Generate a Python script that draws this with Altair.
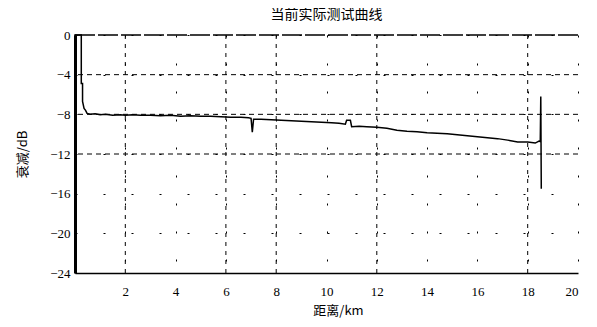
import altair as alt
import pandas as pd

title_text = "当前实际测试曲线"
x_title = "距离/km"
y_title = "衰减/dB"

x_ticks = [2, 4, 6, 8, 10, 12, 14, 16, 18, 20]
y_ticks = [0, -4, -8, -12, -16, -20, -24]

# grid lines that are clearly drawn (dashed) in the reference
h_dashed = [-4, -8, -12]
v_dashed = [2, 6, 8, 12, 18]
top_line = [0]

distance_km = [0.0, 0.0, 0.25, 0.25, 0.30, 0.30, 0.36, 0.42, 0.48, 0.60, 0.80, 1.0,
               1.2, 1.5, 1.8, 2.0, 2.3, 2.6, 3.0, 3.4, 3.8, 4.2, 4.6, 5.0, 5.4,
               5.8, 6.2, 6.6, 6.9, 7.0, 7.05, 7.1, 7.4, 7.8, 8.2, 8.6, 9.0, 9.4,
               9.8, 10.2, 10.5, 10.75, 10.8, 10.95, 11.0, 11.3, 11.6, 12.0, 12.4,
               12.8, 13.2, 13.6, 14.0, 14.4, 14.8, 15.2, 15.6, 16.0, 16.4, 16.8,
               17.2, 17.6, 18.0, 18.3, 18.45, 18.5, 18.52, 18.54]
atten_db = [-24.0, 0.0, 0.0, -4.9, -4.9, -6.7, -7.4, -7.6, -7.9, -8.0, -7.95, -8.05,
            -8.0, -8.1, -8.05, -8.1, -8.05, -8.1, -8.1, -8.15, -8.1, -8.2, -8.15, -8.2,
            -8.2, -8.25, -8.3, -8.3, -8.35, -8.4, -9.8, -8.5, -8.5, -8.55, -8.6, -8.65,
            -8.7, -8.75, -8.8, -8.85, -8.9, -9.0, -8.6, -8.6, -9.25, -9.2, -9.25, -9.3,
            -9.4, -9.6, -9.7, -9.75, -9.85, -9.9, -9.95, -10.05, -10.15, -10.25, -10.35,
            -10.45, -10.6, -10.8, -10.8, -10.9, -10.7, -10.75, -6.2, -15.5]

trace = pd.DataFrame({"d": distance_km, "a": atten_db, "i": list(range(len(distance_km)))})

xs = alt.Scale(domain=[0, 20], nice=False, zero=False)
ys = alt.Scale(domain=[-24, 0], nice=False, zero=False)

base_font = "Liberation Serif"
cjk_font = "Noto Sans CJK SC"

x_axis = alt.Axis(values=x_ticks, grid=True, gridDash=[2, 26], gridColor="black",
                  gridOpacity=1, ticks=False, labelPadding=12, domainColor="black",
                  domainWidth=1.5, titlePadding=6, labelFontSize=13,
                  labelFont=base_font, labelColor="black", labelOverlap=False,
                  titleFontSize=13, titleFont=cjk_font, titleColor="black",
                  titleFontWeight="normal", titleX=263)
y_axis = alt.Axis(values=y_ticks, grid=True, gridDash=[2, 26], gridColor="black",
                  gridOpacity=1, ticks=False, labelPadding=5, domainColor="black",
                  domainWidth=3, titlePadding=20, labelFontSize=13,
                  labelFont=base_font, labelColor="black", labelOverlap=False,
                  titleFontSize=13, titleFont=cjk_font, titleColor="black",
                  titleFontWeight="normal")

line = alt.Chart(trace).mark_line(color="black", strokeWidth=1.5).encode(
    x=alt.X("d:Q", scale=xs, title=x_title, axis=x_axis),
    y=alt.Y("a:Q", scale=ys, title=y_title, axis=y_axis),
    order="i:Q",
)

hgrid = alt.Chart(pd.DataFrame({"y": h_dashed})).mark_rule(
    color="black", strokeWidth=1, strokeDash=[5, 4]).encode(
    y=alt.Y("y:Q", scale=ys, title=y_title, axis=y_axis))
vgrid = alt.Chart(pd.DataFrame({"x": v_dashed})).mark_rule(
    color="black", strokeWidth=1, strokeDash=[4, 5]).encode(
    x=alt.X("x:Q", scale=xs, title=x_title, axis=x_axis))
top = alt.Chart(pd.DataFrame({"y": top_line})).mark_rule(
    color="black", strokeWidth=1.5, strokeDash=[20, 3]).encode(
    y=alt.Y("y:Q", scale=ys, title=y_title, axis=y_axis))

chart = alt.layer(line, hgrid, vgrid, top).properties(
    width=503, height=238,
    title=alt.TitleParams(title_text, font=cjk_font, fontSize=14, color="black",
                          fontWeight="normal", offset=7, anchor="middle"),
    autosize=alt.AutoSizeParams(type="none"),
    padding={"left": 67, "top": 27, "right": 11, "bottom": 46},
).configure_view(stroke=None)

chart.save("out.html", embed_options={"renderer": "svg", "actions": False})
